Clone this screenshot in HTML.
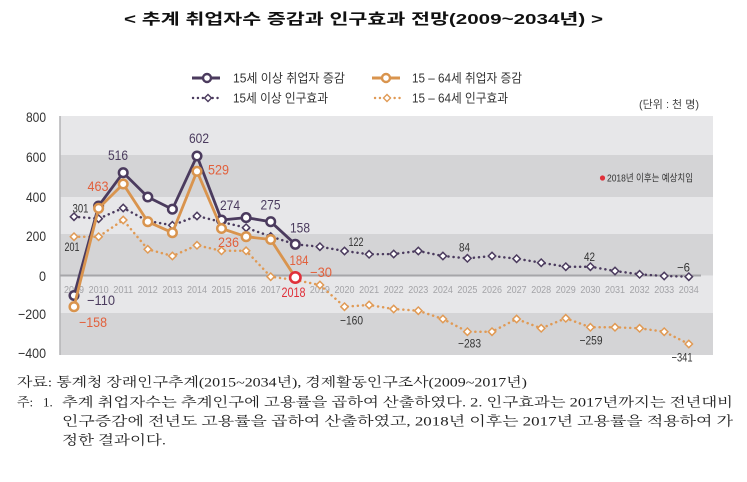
<!DOCTYPE html>
<html><head><meta charset="utf-8"><style>
html,body{margin:0;padding:0;background:#fff;}
svg{display:block;}
.kr{font-family:"Liberation Sans","Noto Sans CJK KR",sans-serif;}
.sr{font-family:"Liberation Serif","Noto Serif CJK SC","Noto Sans CJK KR",serif;}
</style></head><body>
<svg width="747" height="482" viewBox="0 0 747 482" xmlns="http://www.w3.org/2000/svg">
<rect width="747" height="482" fill="#fff"/>
<!-- title -->
<text class="kr" x="124" y="24" font-size="15" font-weight="700" fill="#111" textLength="479" lengthAdjust="spacingAndGlyphs">&lt; 추계 취업자수 증감과 인구효과 전망(2009~2034년) &gt;</text>

<!-- legend -->
<line x1="192" y1="78" x2="220" y2="78" stroke="#4b3b5e" stroke-width="3"/>
<circle cx="207" cy="78" r="4" fill="#fff" stroke="#4b3b5e" stroke-width="2.4"/>
<text class="kr" x="233" y="82.5" font-size="12.5" fill="#333" textLength="112" lengthAdjust="spacingAndGlyphs">15세 이상 취업자 증감</text>
<line x1="372" y1="78" x2="400" y2="78" stroke="#d9944e" stroke-width="3"/>
<circle cx="386" cy="78" r="4" fill="#fff" stroke="#d9944e" stroke-width="2.4"/>
<text class="kr" x="412" y="82.5" font-size="12.5" fill="#333" textLength="110" lengthAdjust="spacingAndGlyphs">15 – 64세 취업자 증감</text>
<line x1="193" y1="98" x2="220" y2="98" stroke="#4b3b5e" stroke-width="2.4" stroke-dasharray="0.1 4.8" stroke-linecap="round"/>
<path d="M208,94.5 L211.5,98 L208,101.5 L204.5,98 Z" fill="#fff" stroke="#4b3b5e" stroke-width="1.4"/>
<text class="kr" x="233" y="102.5" font-size="12.5" fill="#333" textLength="95" lengthAdjust="spacingAndGlyphs">15세 이상 인구효과</text>
<line x1="375" y1="98" x2="400" y2="98" stroke="#e09a55" stroke-width="2.4" stroke-dasharray="0.1 4.8" stroke-linecap="round"/>
<path d="M387,94.5 L390.5,98 L387,101.5 L383.5,98 Z" fill="#fff" stroke="#e09a55" stroke-width="1.4"/>
<text class="kr" x="412" y="102.5" font-size="12.5" fill="#333" textLength="96" lengthAdjust="spacingAndGlyphs">15 – 64세 인구효과</text>

<text class="kr" x="639" y="108" font-size="11" fill="#444" textLength="60" lengthAdjust="spacingAndGlyphs">(단위 : 천 명)</text>

<!-- plot bands -->
<rect x="60" y="116" width="653" height="39" fill="#e7e7e9"/>
<rect x="60" y="155" width="653" height="42" fill="#d4d4d6"/>
<rect x="60" y="197" width="653" height="37" fill="#e7e7e9"/>
<rect x="60" y="234" width="653" height="41.5" fill="#d4d4d6"/>
<rect x="60" y="275.5" width="653" height="37.5" fill="#e7e7e9"/>
<rect x="60" y="313" width="653" height="42" fill="#d4d4d6"/>
<line x1="60" y1="116" x2="60" y2="355" stroke="#b3b3b6" stroke-width="1.5"/>
<line x1="60" y1="275.5" x2="701" y2="275.5" stroke="#a6a6a9" stroke-width="2"/>

<!-- note -->
<circle cx="602.5" cy="178" r="2.6" fill="#e0303a"/>
<text class="kr" x="607" y="181.5" font-size="10" fill="#333" textLength="86" lengthAdjust="spacingAndGlyphs">2018년 이후는 예상치임</text>

<!-- y axis labels -->
<g class="kr" font-size="14" fill="#333" text-anchor="end">
<text x="46" y="122" textLength="20" lengthAdjust="spacingAndGlyphs">800</text>
<text x="46" y="162" textLength="20" lengthAdjust="spacingAndGlyphs">600</text>
<text x="46" y="202" textLength="20" lengthAdjust="spacingAndGlyphs">400</text>
<text x="46" y="241" textLength="20" lengthAdjust="spacingAndGlyphs">200</text>
<text x="46" y="281" textLength="7" lengthAdjust="spacingAndGlyphs">0</text>
<text x="46" y="319" textLength="28" lengthAdjust="spacingAndGlyphs">−200</text>
<text x="46" y="358" textLength="28" lengthAdjust="spacingAndGlyphs">−400</text>
</g>

<!-- year labels -->
<g class="kr" font-size="10" fill="#a3a3a7" text-anchor="middle">
<text x="74" y="293" textLength="20" lengthAdjust="spacingAndGlyphs">2009</text>
<text x="98.6" y="293" textLength="20" lengthAdjust="spacingAndGlyphs">2010</text>
<text x="123.2" y="293" textLength="20" lengthAdjust="spacingAndGlyphs">2011</text>
<text x="147.8" y="293" textLength="20" lengthAdjust="spacingAndGlyphs">2012</text>
<text x="172.4" y="293" textLength="20" lengthAdjust="spacingAndGlyphs">2013</text>
<text x="197" y="293" textLength="20" lengthAdjust="spacingAndGlyphs">2014</text>
<text x="221.5" y="293" textLength="20" lengthAdjust="spacingAndGlyphs">2015</text>
<text x="246.1" y="293" textLength="20" lengthAdjust="spacingAndGlyphs">2016</text>
<text x="270.7" y="293" textLength="20" lengthAdjust="spacingAndGlyphs">2017</text>
<text x="319.9" y="293" textLength="20" lengthAdjust="spacingAndGlyphs">2019</text>
<text x="344.5" y="293" textLength="20" lengthAdjust="spacingAndGlyphs">2020</text>
<text x="369.1" y="293" textLength="20" lengthAdjust="spacingAndGlyphs">2021</text>
<text x="393.7" y="293" textLength="20" lengthAdjust="spacingAndGlyphs">2022</text>
<text x="418.3" y="293" textLength="20" lengthAdjust="spacingAndGlyphs">2023</text>
<text x="442.9" y="293" textLength="20" lengthAdjust="spacingAndGlyphs">2024</text>
<text x="467.4" y="293" textLength="20" lengthAdjust="spacingAndGlyphs">2025</text>
<text x="492" y="293" textLength="20" lengthAdjust="spacingAndGlyphs">2026</text>
<text x="516.6" y="293" textLength="20" lengthAdjust="spacingAndGlyphs">2027</text>
<text x="541.2" y="293" textLength="20" lengthAdjust="spacingAndGlyphs">2028</text>
<text x="565.8" y="293" textLength="20" lengthAdjust="spacingAndGlyphs">2029</text>
<text x="590.4" y="293" textLength="20" lengthAdjust="spacingAndGlyphs">2030</text>
<text x="615" y="293" textLength="20" lengthAdjust="spacingAndGlyphs">2031</text>
<text x="639.6" y="293" textLength="20" lengthAdjust="spacingAndGlyphs">2032</text>
<text x="664.2" y="293" textLength="20" lengthAdjust="spacingAndGlyphs">2033</text>
<text x="688.8" y="293" textLength="20" lengthAdjust="spacingAndGlyphs">2034</text>
</g>

<!-- dotted orange -->
<polyline fill="none" stroke="#e09a55" stroke-width="2.5" stroke-dasharray="0.1 5" stroke-linecap="round"
points="74,236.7 98.6,236.7 123.2,220 147.8,249.3 172.4,256 197,245.3 221.5,250.8 246.1,250.8 270.7,276.7 295.3,280 319.9,285 344.5,306.7 369.1,305 393.7,309 418.3,310.7 442.9,319 467.4,331.7 492,331.7 516.6,319 541.2,328.3 565.8,318.3 590.4,327.3 615,327.3 639.6,328.3 664.2,331.7 688.8,344"/>
<g fill="#fff" stroke="#e09a55" stroke-width="1.5">
<path d="M74,233 l3.7,3.7 l-3.7,3.7 l-3.7,-3.7 Z"/>
<path d="M98.6,233 l3.7,3.7 l-3.7,3.7 l-3.7,-3.7 Z"/>
<path d="M123.2,216.3 l3.7,3.7 l-3.7,3.7 l-3.7,-3.7 Z"/>
<path d="M147.8,245.6 l3.7,3.7 l-3.7,3.7 l-3.7,-3.7 Z"/>
<path d="M172.4,252.3 l3.7,3.7 l-3.7,3.7 l-3.7,-3.7 Z"/>
<path d="M197,241.6 l3.7,3.7 l-3.7,3.7 l-3.7,-3.7 Z"/>
<path d="M221.5,247.1 l3.7,3.7 l-3.7,3.7 l-3.7,-3.7 Z"/>
<path d="M246.1,247.1 l3.7,3.7 l-3.7,3.7 l-3.7,-3.7 Z"/>
<path d="M270.7,273 l3.7,3.7 l-3.7,3.7 l-3.7,-3.7 Z"/>
<path d="M319.9,281.3 l3.7,3.7 l-3.7,3.7 l-3.7,-3.7 Z"/>
<path d="M344.5,303 l3.7,3.7 l-3.7,3.7 l-3.7,-3.7 Z"/>
<path d="M369.1,301.3 l3.7,3.7 l-3.7,3.7 l-3.7,-3.7 Z"/>
<path d="M393.7,305.3 l3.7,3.7 l-3.7,3.7 l-3.7,-3.7 Z"/>
<path d="M418.3,307 l3.7,3.7 l-3.7,3.7 l-3.7,-3.7 Z"/>
<path d="M442.9,315.3 l3.7,3.7 l-3.7,3.7 l-3.7,-3.7 Z"/>
<path d="M467.4,328 l3.7,3.7 l-3.7,3.7 l-3.7,-3.7 Z"/>
<path d="M492,328 l3.7,3.7 l-3.7,3.7 l-3.7,-3.7 Z"/>
<path d="M516.6,315.3 l3.7,3.7 l-3.7,3.7 l-3.7,-3.7 Z"/>
<path d="M541.2,324.6 l3.7,3.7 l-3.7,3.7 l-3.7,-3.7 Z"/>
<path d="M565.8,314.6 l3.7,3.7 l-3.7,3.7 l-3.7,-3.7 Z"/>
<path d="M590.4,323.6 l3.7,3.7 l-3.7,3.7 l-3.7,-3.7 Z"/>
<path d="M615,323.6 l3.7,3.7 l-3.7,3.7 l-3.7,-3.7 Z"/>
<path d="M639.6,324.6 l3.7,3.7 l-3.7,3.7 l-3.7,-3.7 Z"/>
<path d="M664.2,328 l3.7,3.7 l-3.7,3.7 l-3.7,-3.7 Z"/>
<path d="M688.8,340.3 l3.7,3.7 l-3.7,3.7 l-3.7,-3.7 Z"/>
</g>

<!-- dotted purple -->
<polyline fill="none" stroke="#4b3b5e" stroke-width="2.5" stroke-dasharray="0.1 5" stroke-linecap="round"
points="74,216.7 98.6,218.7 123.2,208 147.8,221 172.4,225.3 197,216 221.5,222 246.1,227.7 270.7,236.5 295.3,244.3 319.9,246.7 344.5,251 369.1,254.3 393.7,254 418.3,251 442.9,256 467.4,258.3 492,256 516.6,258.7 541.2,262.7 565.8,266.7 590.4,266.7 615,271 639.6,274.3 664.2,276 688.8,276.7"/>
<g fill="#fff" stroke="#4b3b5e" stroke-width="1.5">
<path d="M74,213 l3.7,3.7 l-3.7,3.7 l-3.7,-3.7 Z"/>
<path d="M98.6,215 l3.7,3.7 l-3.7,3.7 l-3.7,-3.7 Z"/>
<path d="M123.2,204.3 l3.7,3.7 l-3.7,3.7 l-3.7,-3.7 Z"/>
<path d="M147.8,217.3 l3.7,3.7 l-3.7,3.7 l-3.7,-3.7 Z"/>
<path d="M172.4,221.6 l3.7,3.7 l-3.7,3.7 l-3.7,-3.7 Z"/>
<path d="M197,212.3 l3.7,3.7 l-3.7,3.7 l-3.7,-3.7 Z"/>
<path d="M221.5,218.3 l3.7,3.7 l-3.7,3.7 l-3.7,-3.7 Z"/>
<path d="M246.1,224 l3.7,3.7 l-3.7,3.7 l-3.7,-3.7 Z"/>
<path d="M270.7,232.8 l3.7,3.7 l-3.7,3.7 l-3.7,-3.7 Z"/>
<path d="M319.9,243 l3.7,3.7 l-3.7,3.7 l-3.7,-3.7 Z"/>
<path d="M344.5,247.3 l3.7,3.7 l-3.7,3.7 l-3.7,-3.7 Z"/>
<path d="M369.1,250.6 l3.7,3.7 l-3.7,3.7 l-3.7,-3.7 Z"/>
<path d="M393.7,250.3 l3.7,3.7 l-3.7,3.7 l-3.7,-3.7 Z"/>
<path d="M418.3,247.3 l3.7,3.7 l-3.7,3.7 l-3.7,-3.7 Z"/>
<path d="M442.9,252.3 l3.7,3.7 l-3.7,3.7 l-3.7,-3.7 Z"/>
<path d="M467.4,254.6 l3.7,3.7 l-3.7,3.7 l-3.7,-3.7 Z"/>
<path d="M492,252.3 l3.7,3.7 l-3.7,3.7 l-3.7,-3.7 Z"/>
<path d="M516.6,255 l3.7,3.7 l-3.7,3.7 l-3.7,-3.7 Z"/>
<path d="M541.2,259 l3.7,3.7 l-3.7,3.7 l-3.7,-3.7 Z"/>
<path d="M565.8,263 l3.7,3.7 l-3.7,3.7 l-3.7,-3.7 Z"/>
<path d="M590.4,263 l3.7,3.7 l-3.7,3.7 l-3.7,-3.7 Z"/>
<path d="M615,267.3 l3.7,3.7 l-3.7,3.7 l-3.7,-3.7 Z"/>
<path d="M639.6,270.6 l3.7,3.7 l-3.7,3.7 l-3.7,-3.7 Z"/>
<path d="M664.2,272.3 l3.7,3.7 l-3.7,3.7 l-3.7,-3.7 Z"/>
<path d="M688.8,273 l3.7,3.7 l-3.7,3.7 l-3.7,-3.7 Z"/>
</g>

<!-- solid purple -->
<polyline fill="none" stroke="#4b3b5e" stroke-width="2.8" stroke-linejoin="round"
points="74,295.5 98.6,206 123.2,172.7 147.8,197 172.4,209.2 197,156 221.5,220 246.1,217.6 270.7,221.7 295.3,244.3"/>
<g fill="#fff" stroke="#4b3b5e" stroke-width="2.5">
<circle cx="74" cy="295.5" r="4.3"/>
<circle cx="98.6" cy="206" r="4.3"/>
<circle cx="123.2" cy="172.7" r="4.3"/>
<circle cx="147.8" cy="197" r="4.3"/>
<circle cx="172.4" cy="209.2" r="4.3"/>
<circle cx="197" cy="156" r="4.3"/>
<circle cx="221.5" cy="220" r="4.3"/>
<circle cx="246.1" cy="217.6" r="4.3"/>
<circle cx="270.7" cy="221.7" r="4.3"/>
<circle cx="295.3" cy="244.3" r="4.3"/>
</g>

<!-- solid orange -->
<polyline fill="none" stroke="#d9944e" stroke-width="2.8" stroke-linejoin="round"
points="74,306.7 98.6,208.3 123.2,184 147.8,221.7 172.4,232.7 197,171.3 221.5,228.5 246.1,236.7 270.7,239.5 295.3,277.3"/>
<g fill="#fff" stroke="#d9944e" stroke-width="2.5">
<circle cx="74" cy="306.7" r="4.3"/>
<circle cx="98.6" cy="208.3" r="4.3"/>
<circle cx="123.2" cy="184" r="4.3"/>
<circle cx="147.8" cy="221.7" r="4.3"/>
<circle cx="172.4" cy="232.7" r="4.3"/>
<circle cx="197" cy="171.3" r="4.3"/>
<circle cx="221.5" cy="228.5" r="4.3"/>
<circle cx="246.1" cy="236.7" r="4.3"/>
<circle cx="270.7" cy="239.5" r="4.3"/>
</g>
<circle cx="295.3" cy="277.5" r="5.2" fill="#fff" stroke="#e0303a" stroke-width="2.6"/>

<!-- value labels purple -->
<g class="kr" font-size="14" fill="#4b3b5e" text-anchor="middle">
<text x="118" y="160" textLength="20" lengthAdjust="spacingAndGlyphs">516</text>
<text x="199" y="143" textLength="20" lengthAdjust="spacingAndGlyphs">602</text>
<text x="230" y="210" textLength="20" lengthAdjust="spacingAndGlyphs">274</text>
<text x="270.5" y="209.5" textLength="20" lengthAdjust="spacingAndGlyphs">275</text>
<text x="300" y="232.5" textLength="20" lengthAdjust="spacingAndGlyphs">158</text>
<text x="101" y="305" textLength="28" lengthAdjust="spacingAndGlyphs">−110</text>
</g>
<!-- value labels orange -->
<g class="kr" font-size="14" fill="#e2603c" text-anchor="middle">
<text x="98" y="191" textLength="21" lengthAdjust="spacingAndGlyphs">463</text>
<text x="218.5" y="174.5" textLength="21" lengthAdjust="spacingAndGlyphs">529</text>
<text x="228.5" y="247" textLength="21" lengthAdjust="spacingAndGlyphs">236</text>
<text x="299" y="265" textLength="19" lengthAdjust="spacingAndGlyphs">184</text>
<text x="321" y="277" textLength="22" lengthAdjust="spacingAndGlyphs">−30</text>
<text x="93" y="327" textLength="28" lengthAdjust="spacingAndGlyphs">−158</text>
</g>
<text class="kr" x="293.5" y="297" font-size="14" fill="#e0303a" text-anchor="middle" textLength="24" lengthAdjust="spacingAndGlyphs">2018</text>
<!-- value labels dark -->
<g class="kr" font-size="12" fill="#333" text-anchor="middle">
<text x="80.5" y="212.5" textLength="16" lengthAdjust="spacingAndGlyphs">301</text>
<text x="72" y="251" textLength="15" lengthAdjust="spacingAndGlyphs">201</text>
<text x="356" y="246" textLength="15" lengthAdjust="spacingAndGlyphs">122</text>
<text x="351.5" y="324.5" textLength="23" lengthAdjust="spacingAndGlyphs">−160</text>
<text x="464.5" y="251.5" textLength="11" lengthAdjust="spacingAndGlyphs">84</text>
<text x="589.5" y="261" textLength="11" lengthAdjust="spacingAndGlyphs">42</text>
<text x="683.5" y="271.5" textLength="13" lengthAdjust="spacingAndGlyphs">−6</text>
<text x="469.5" y="347.5" textLength="23" lengthAdjust="spacingAndGlyphs">−283</text>
<text x="591" y="344.5" textLength="23" lengthAdjust="spacingAndGlyphs">−259</text>
<text x="682" y="361.5" textLength="21" lengthAdjust="spacingAndGlyphs">−341</text>
</g>

<!-- footnotes -->
<g class="sr" font-size="13" fill="#222">
<text x="17" y="386.5" textLength="510" lengthAdjust="spacingAndGlyphs">자료: 통계청 장래인구추계(2015~2034년), 경제활동인구조사(2009~2017년)</text>
<text x="17" y="406.5">주:</text>
<text x="43" y="406.5">1.</text>
<text x="62" y="406.5" textLength="671" lengthAdjust="spacingAndGlyphs">추계 취업자수는 추계인구에 고용률을 곱하여 산출하였다. 2. 인구효과는 2017년까지는 전년대비</text>
<text x="62" y="425.5" textLength="671" lengthAdjust="spacingAndGlyphs">인구증감에 전년도 고용률을 곱하여 산출하였고, 2018년 이후는 2017년 고용률을 적용하여 가</text>
<text x="62" y="444.5" textLength="104" lengthAdjust="spacingAndGlyphs">정한 결과이다.</text>
</g>
</svg>
</body></html>
